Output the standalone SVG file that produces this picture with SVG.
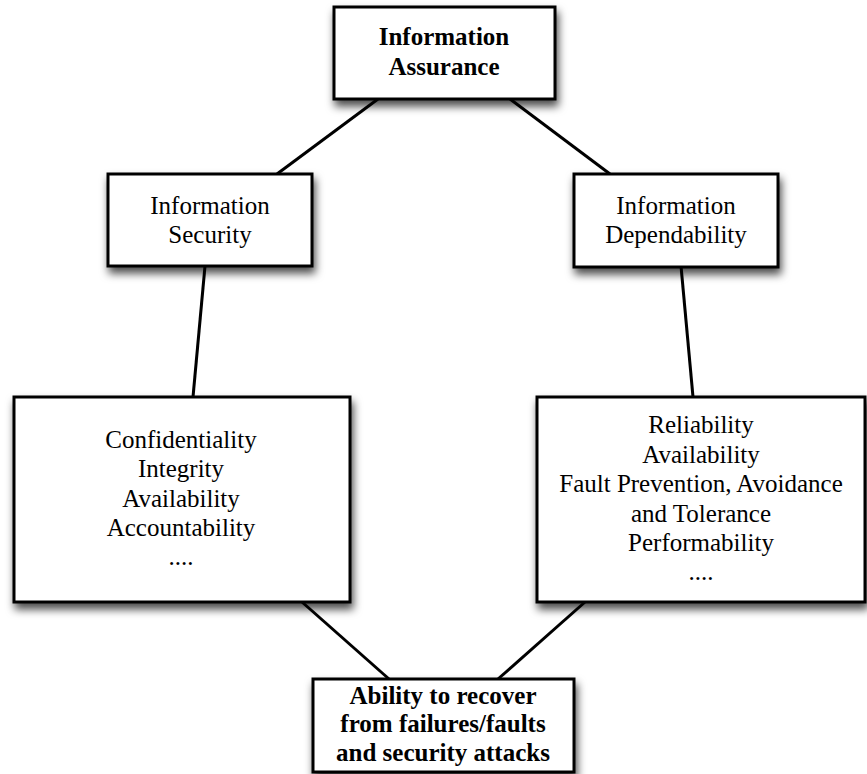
<svg xmlns="http://www.w3.org/2000/svg" width="867" height="774" viewBox="0 0 867 774">
<style>
.box{fill:#fff;stroke:#000;stroke-width:3;filter:url(#sh)}
.t{font-family:"Liberation Serif","Times New Roman",serif;font-size:25px;text-anchor:middle;fill:#000}
.b{font-weight:bold}
.c{stroke:#000;stroke-width:3;fill:none}
</style>
<defs>
<filter id="sh" x="-20%" y="-20%" width="150%" height="150%">
<feDropShadow dx="2" dy="6" stdDeviation="4.5" flood-color="#000" flood-opacity="0.7"/>
</filter>
</defs>
<rect width="867" height="774" fill="#fff"/>
<g id="connectors">
<line class="c" x1="378" y1="99" x2="277" y2="174"/>
<line class="c" x1="510" y1="99" x2="610" y2="174"/>
<line class="c" x1="205" y1="266" x2="193" y2="397"/>
<line class="c" x1="681" y1="266" x2="693" y2="397"/>
<line class="c" x1="302" y1="602" x2="389" y2="679"/>
<line class="c" x1="585" y1="602" x2="498" y2="679"/>
</g>
<g id="assurance">
<rect class="box" x="334" y="7" width="221" height="92"/>
<text class="t b" x="444" y="45">Information</text>
<text class="t b" x="444" y="75">Assurance</text>
</g>
<g id="security">
<rect class="box" x="108" y="174" width="204" height="92"/>
<text class="t" x="210" y="214">Information</text>
<text class="t" x="210" y="243">Security</text>
</g>
<g id="dependability">
<rect class="box" x="574" y="174" width="204" height="93"/>
<text class="t" x="676" y="214">Information</text>
<text class="t" x="676" y="243">Dependability</text>
</g>
<g id="security-attrs">
<rect class="box" x="14" y="397" width="336" height="205"/>
<text class="t" x="181" y="448">Confidentiality</text>
<text class="t" x="181" y="477">Integrity</text>
<text class="t" x="181" y="507">Availability</text>
<text class="t" x="181" y="536">Accountability</text>
<text class="t" x="181" y="565">....</text>
</g>
<g id="dependability-attrs">
<rect class="box" x="537" y="397" width="328" height="205"/>
<text class="t" x="701" y="433">Reliability</text>
<text class="t" x="701" y="463">Availability</text>
<text class="t" x="701" y="492">Fault Prevention, Avoidance</text>
<text class="t" x="701" y="522">and Tolerance</text>
<text class="t" x="701" y="551">Performability</text>
<text class="t" x="701" y="580">....</text>
</g>
<g id="recover">
<rect class="box" x="313" y="679" width="261" height="93"/>
<text class="t b" x="443" y="704">Ability to recover</text>
<text class="t b" x="443" y="732">from failures/faults</text>
<text class="t b" x="443" y="761">and security attacks</text>
</g>
</svg>
